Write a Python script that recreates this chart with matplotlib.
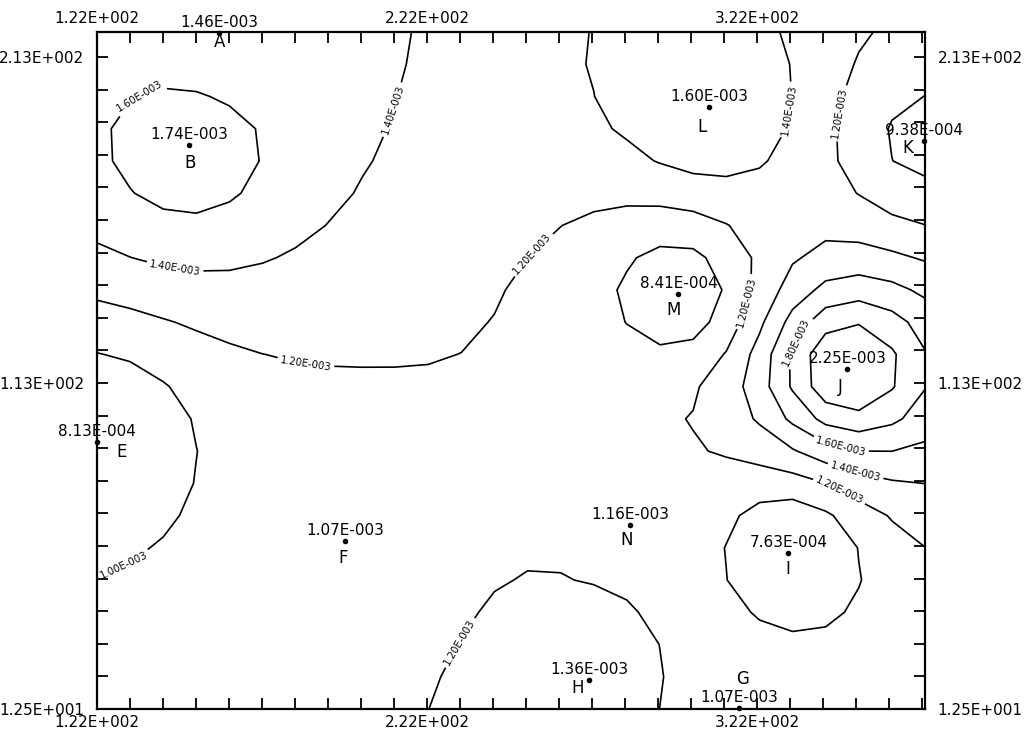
import numpy as np
import matplotlib
matplotlib.use("Agg")
import matplotlib.pyplot as plt

# Sampling stations: name, position and measured value
stations = ["A", "B", "E", "F", "G", "H", "I", "J", "K", "L", "M", "N"]
station_x = [159.0, 149.9, 122.0, 197.2, 316.5, 271.1, 331.4, 349.3, 372.6, 307.5, 298.1, 283.5]
station_y = [220.0, 185.5, 94.4, 64.0, 12.8, 21.4, 60.4, 116.8, 186.7, 197.2, 139.8, 68.9]
station_values = [1.46e-3, 1.74e-3, 8.13e-4, 1.07e-3, 1.07e-3, 1.36e-3,
                  7.63e-4, 2.25e-3, 9.38e-4, 1.60e-3, 8.41e-4, 1.16e-3]

contour_levels = [1.0e-3, 1.2e-3, 1.4e-3, 1.6e-3, 1.8e-3, 2.0e-3]

x_tick_values = [122, 222, 322]
x_tick_labels = ["1.22E+002", "2.22E+002", "3.22E+002"]
y_tick_values = [12.5, 112.5, 212.5]
y_tick_labels = ["1.25E+001", "1.13E+002", "2.13E+002"]

X_MIN, X_MAX = 122.0, 372.8
Y_MIN, Y_MAX = 12.5, 220.2

# letter placement around each station marker (pixels, relative to the dot)
letter_offsets = {
    "A": (0, -9), "B": (1, -18), "E": (25, -10), "F": (-2, -17),
    "G": (3, 29), "H": (-12, -8), "I": (-1, -16), "J": (-7, -18),
    "K": (-17, -7), "L": (-7, -20), "M": (-5, -16), "N": (-4, -15),
}


def sci3(v):
    mant, exp = f"{v:.2E}".split("E")
    return f"{mant}E{int(exp):+04d}"


def idw_grid(xs, ys, vs, gx, gy, power=2.0):
    px = np.asarray(xs)[:, None, None]
    py = np.asarray(ys)[:, None, None]
    pv = np.asarray(vs)[:, None, None]
    GX, GY = np.meshgrid(gx, gy)
    d2 = (GX[None] - px) ** 2 + (GY[None] - py) ** 2
    d2 = np.maximum(d2, 1e-9)
    w = d2 ** (-power / 2.0)
    return GX, GY, (w * pv).sum(axis=0) / w.sum(axis=0)


plt.rcParams["font.family"] = ["DejaVu Sans"]

fig = plt.figure(figsize=(10.27, 7.34), dpi=100)
ax = fig.add_axes([97 / 1027, 25 / 734, 828 / 1027, 677 / 734])
ax.set_xlim(X_MIN, X_MAX)
ax.set_ylim(Y_MIN, Y_MAX)

# inverse-distance gridding of the station values on a 10-unit mesh
gx = np.linspace(X_MIN, X_MAX, 26)
gy = np.linspace(Y_MIN, Y_MAX, 22)
GX, GY, field = idw_grid(station_x, station_y, station_values, gx, gy, power=2.0)

cs = ax.contour(GX, GY, field, levels=contour_levels, colors="black", linewidths=1.2)

label_spots = [
    (135, 200), (145.6, 147.8), (185, 116.5), (219, 194), (257, 148.7),
    (316.8, 138), (332, 196.2), (350.2, 194.7), (335, 124.2), (347, 92),
    (351.7, 85.2), (347, 79.7), (127, 66), (230.5, 33.7),
]
ax.clabel(cs, inline=True, fontsize=7.3, fmt=sci3, manual=label_spots, inline_spacing=3)

# station markers with value above and name beside
ax.plot(station_x, station_y, "o", color="black", markersize=3, clip_on=False, zorder=5)
for name, sx, sy, sv in zip(stations, station_x, station_y, station_values):
    ax.annotate(sci3(sv), (sx, sy), xytext=(0, 10.5), textcoords="offset pixels",
                ha="center", va="center", fontsize=11, annotation_clip=False)
    dx, dy = letter_offsets[name]
    ax.annotate(name, (sx, sy), xytext=(dx, dy), textcoords="offset pixels",
                ha="center", va="center", fontsize=12, annotation_clip=False)

# frame and ticks on all four sides
xt = np.arange(122, X_MAX, 10)
yt = np.arange(12.5, Y_MAX - 5, 10)
ax.set_xticks(xt)
ax.set_yticks(yt)
ax.set_xticklabels([x_tick_labels[x_tick_values.index(v)] if v in x_tick_values else "" for v in xt])
ax.set_yticklabels([y_tick_labels[y_tick_values.index(v)] if v in y_tick_values else "" for v in yt])
ax.tick_params(axis="both", direction="in", length=8, width=1.3, labelsize=11,
               top=True, right=True, labeltop=True, labelright=True)
ax.tick_params(axis="x", pad=4)
ax.tick_params(axis="y", pad=9)
for sp in ax.spines.values():
    sp.set_linewidth(1.6)

fig.savefig("out.png", dpi=100)
